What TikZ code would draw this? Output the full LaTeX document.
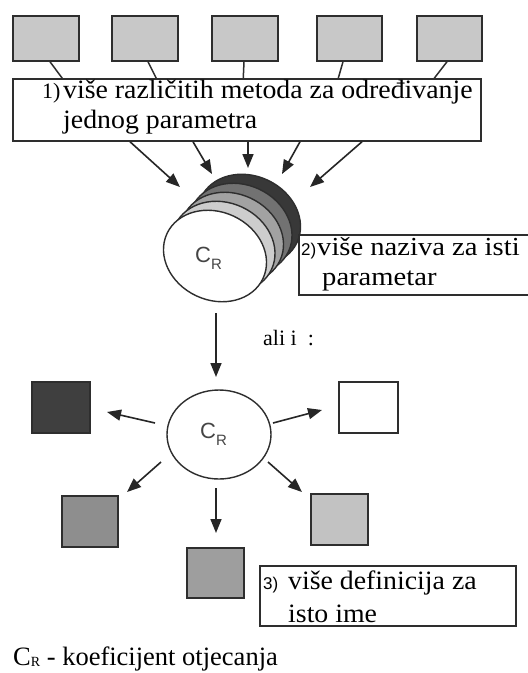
\documentclass[tikz,border=0pt]{standalone}
\usepackage{fontspec}
\setmainfont{Liberation Serif}
\newfontfamily\txtfont[FakeStretch=1.05]{Liberation Serif}
\newfontfamily\widefont[FakeStretch=1.1]{Liberation Serif}
\newfontfamily\labsans{Liberation Sans}
\usetikzlibrary{arrows.meta,shapes.geometric,calc}
\definecolor{edge}{HTML}{2E2E2E}
\definecolor{boxgray}{HTML}{C8C8C8}
\definecolor{dkgray}{HTML}{3F3F3F}
\definecolor{midgray}{HTML}{8E8E8E}
\definecolor{ltgray}{HTML}{C2C2C2}
\definecolor{ctgray}{HTML}{9E9E9E}
\definecolor{diskA}{HTML}{383838}
\definecolor{diskB}{HTML}{727272}
\definecolor{diskC}{HTML}{A2A2A2}
\definecolor{diskD}{HTML}{CDCDCD}
\definecolor{labgray}{HTML}{454545}
\newcommand{\CRlabel}{{\labsans\fontsize{22}{22}\selectfont C\raisebox{-7pt}{\fontsize{15}{15}\selectfont R}}}
\begin{document}
\begin{tikzpicture}[x=1pt,y=-1pt,
  sqbox/.style={draw=edge,line width=1.5pt,inner sep=0pt},
  txtbox/.style={draw=edge,line width=1.5pt,fill=white,inner sep=0pt},
  disk/.style={ellipse,draw=edge,line width=1.4pt,minimum width=106pt,minimum height=88pt,inner sep=0pt,rotate=-25},
  arr/.style={line width=1.6pt,draw=black!85,-{Triangle[length=14pt,width=11pt]}},
  link/.style={line width=1.5pt,draw=edge},
  lbl/.style={inner sep=0pt,anchor=base west},
  big/.style={font=\txtfont\fontsize{26.5}{30}\selectfont},
  num/.style={font=\fontsize{22}{24}\selectfont},
  numsans/.style={font=\labsans\fontsize{17}{20}\selectfont}]
\useasboundingbox (0,0) rectangle (528,673);
\fill[white] (0,0) rectangle (528,673);

% top boxes
\node[sqbox,fill=boxgray,minimum width=66pt,minimum height=45pt] (b1) at (46,38.5) {};
\node[sqbox,fill=boxgray,minimum width=66pt,minimum height=45pt] (b2) at (145,38.5) {};
\node[sqbox,fill=boxgray,minimum width=66pt,minimum height=45pt] (b3) at (245,38.5) {};
\node[sqbox,fill=boxgray,minimum width=65pt,minimum height=45pt] (b4) at (349.5,38.5) {};
\node[sqbox,fill=boxgray,minimum width=65pt,minimum height=45pt] (b5) at (449.5,38.5) {};

% text box 1
\node[txtbox,minimum width=468pt,minimum height=62pt] (tb1) at (247,110) {};
\draw[link] ([xshift=4pt]b1.south) -- ([xshift=50pt]tb1.north west);
\draw[link] ([xshift=3pt]b2.south) -- ([xshift=144pt]tb1.north west);
\draw[link] ([xshift=-1pt]b3.south) -- ([xshift=231pt]tb1.north west);
\draw[link] ([xshift=-6.5pt]b4.south) -- ([xshift=326pt]tb1.north west);
\draw[link] ([xshift=-2.5pt]b5.south) -- ([xshift=422pt]tb1.north west);
\node[lbl,num] (n1) at (42,98) {1)};
\node[lbl,big] (t1a) at (63,98) {više različitih metoda za određivanje};
\node[lbl,big] (t1b) at (63,128) {jednog parametra};

% stack of disks
\node[disk,fill=diskA] (d4) at (249,220) {};
\node[disk,fill=diskB] (d3) at (240.5,229) {};
\node[disk,fill=diskC] (d2) at (232,238) {};
\node[disk,fill=diskD] (d1) at (223.5,247) {};
\node[disk,fill=white] (d0) at (215,256) {};
\node[lbl,text=labgray] (cr1) at (195,262) {\CRlabel};

% arrows into the stack
\coordinate (t1) at (180,187);
\coordinate (t2) at (212,174);
\coordinate (t3) at (248,168);
\coordinate (t4) at (282,174);
\coordinate (t5) at (310,187);
\draw[arr] ([xshift=-117pt]tb1.south) -- (t1);
\draw[arr] ([xshift=-54pt]tb1.south) -- (t2);
\draw[arr] ([xshift=1pt]tb1.south) -- (t3);
\draw[arr] ([xshift=53pt]tb1.south) -- (t4);
\draw[arr] ([xshift=115pt]tb1.south) -- (t5);

% text box 2
\node[txtbox,minimum width=242pt,minimum height=60pt,anchor=north west] (tb2) at (298,234) {};
\node[lbl,numsans] (n2) at (301,255) {2)};
\node[lbl,font=\widefont\fontsize{26}{30}\selectfont] (t2a) at (317,255) {više naziva za isti};
\node[lbl,font=\widefont\fontsize{26}{30}\selectfont] (t2b) at (322,285) {parametar};

% down arrow and "ali i :"
\coordinate (m0) at (216,313);
\coordinate (m1) at (216,377);
\draw[arr] (m0) -- (m1);
\node[lbl,font=\fontsize{22}{24}\selectfont] (ali) at (263,345) {ali i\ \ :};

% central ellipse
\node[ellipse,draw=edge,line width=1.4pt,fill=white,minimum width=104pt,minimum height=89pt,inner sep=0pt] (ce) at (219,434.5) {};
\node[lbl,text=labgray] (cr2) at (200,438) {\CRlabel};

% surrounding boxes
\node[sqbox,fill=dkgray,minimum width=58pt,minimum height=51pt] (sk) at (61,407.5) {};
\node[sqbox,fill=white,minimum width=59pt,minimum height=51pt] (sw) at (368.5,407.5) {};
\node[sqbox,fill=midgray,minimum width=56pt,minimum height=51pt] (sbl) at (90,521.5) {};
\node[sqbox,fill=ltgray,minimum width=57pt,minimum height=51pt] (sbr) at (339.5,519.5) {};
\node[sqbox,fill=ctgray,minimum width=57pt,minimum height=50pt] (sbc) at (215.5,573) {};

\coordinate (e1s) at (155,423); \coordinate (e1t) at (107,412);
\coordinate (e2s) at (273,423); \coordinate (e2t) at (322,410);
\coordinate (e3s) at (161,462); \coordinate (e3t) at (127,492);
\coordinate (e4s) at (268,462); \coordinate (e4t) at (302,492);
\coordinate (e5s) at (216,488); \coordinate (e5t) at (216,533);
\draw[arr] (e1s) -- (e1t);
\draw[arr] (e2s) -- (e2t);
\draw[arr] (e3s) -- (e3t);
\draw[arr] (e4s) -- (e4t);
\draw[arr] (e5s) -- (e5t);

% text box 3
\node[txtbox,minimum width=256pt,minimum height=60pt,anchor=north west] (tb3) at (259,565) {};
\node[lbl,numsans] (n3) at (263,589) {3)};
\node[lbl,big] (t3a) at (288,589) {više definicija za};
\node[lbl,big] (t3b) at (288,622) {isto ime};

% caption
\node[lbl,font=\fontsize{26.5}{30}\selectfont] (cap) at (13,665) {C\raisebox{-1pt}{\fontsize{14}{14}\selectfont R} - koeficijent otjecanja};
\end{tikzpicture}
\end{document}
